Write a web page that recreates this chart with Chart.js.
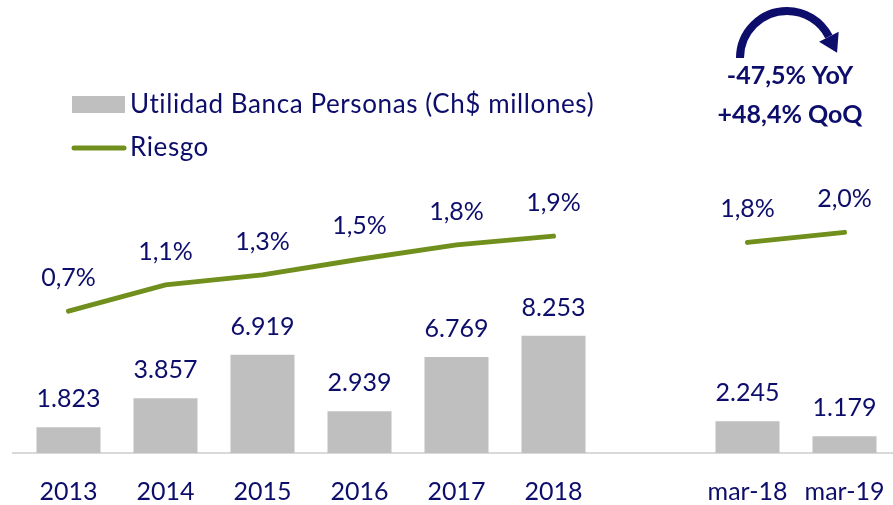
<!DOCTYPE html>
<html>
<head>
<meta charset="utf-8">
<script src="https://cdn.jsdelivr.net/npm/chart.js@4.4.1/dist/chart.umd.min.js"></script>
<style>
  html, body { margin: 0; padding: 0; background: #fff; }
  #wrap { position: relative; width: 893px; height: 505px; }
</style>
</head>
<body>
<div id="wrap"><canvas id="chart"></canvas></div>
<script>
// Utilidad Banca Personas + Riesgo
const categories = ["2013", "2014", "2015", "2016", "2017", "2018", "", "mar-18", "mar-19"];
const utilidad = [1823, 3857, 6919, 2939, 6769, 8253, null, 2245, 1179]; // Ch$ millones
const riesgo = [0.7, 1.12, 1.28, 1.53, 1.76, 1.9, null, 1.8, 1.96]; // %
const legendLabels = ["Utilidad Banca Personas (Ch$ millones)", "Riesgo"];
const noteLines = ["-47,5% YoY", "+48,4% QoQ"];

const navy = "#0d0d6b";
const barColor = "#bfbfbf";
const lineColor = "#718f1d";
const fontFamily = "Lato, 'Liberation Sans', sans-serif";

const fmtMiles = (v) => v.toLocaleString("de-DE");
const fmtPct = (v) => v.toFixed(1).replace(".", ",") + "%";

// baseline that runs a bit left of the plot, like the original
const baselinePlugin = {
  id: "baseline",
  beforeDatasetsDraw(chart) {
    const ctx = chart.ctx;
    const y = chart.scales.x.top;
    ctx.save();
    ctx.strokeStyle = "#d9d9d9";
    ctx.lineWidth = 2;
    ctx.beginPath();
    ctx.moveTo(12, y);
    ctx.lineTo(chart.chartArea.right, y);
    ctx.stroke();
    ctx.restore();
  },
};

// data labels, legend and arrow note
const extrasPlugin = {
  id: "extras",
  afterDatasetsDraw(chart) {
    const ctx = chart.ctx;
    ctx.save();
    ctx.fillStyle = navy;
    ctx.textAlign = "center";
    ctx.textBaseline = "middle";
    ctx.font = "25px " + fontFamily;

    chart.getDatasetMeta(0).data.forEach((bar, i) => {
      if (utilidad[i] == null) return;
      ctx.fillText(fmtMiles(utilidad[i]), bar.x, bar.y - 28);
    });
    chart.getDatasetMeta(1).data.forEach((pt, i) => {
      if (riesgo[i] == null) return;
      ctx.fillText(fmtPct(riesgo[i]), pt.x, pt.y - 33);
    });

    // legend
    ctx.textAlign = "left";
    ctx.fillStyle = barColor;
    ctx.fillRect(72, 96, 53, 17);
    ctx.strokeStyle = lineColor;
    ctx.lineWidth = 5;
    ctx.lineCap = "round";
    ctx.beginPath();
    ctx.moveTo(74, 148);
    ctx.lineTo(124, 148);
    ctx.stroke();
    ctx.fillStyle = navy;
    ctx.font = "26px " + fontFamily;
    ctx.letterSpacing = "0.6px";
    ctx.fillText(legendLabels[0], 130, 105);
    ctx.fillText(legendLabels[1], 130, 148);
    ctx.letterSpacing = "0px";

    // curved arrow
    ctx.strokeStyle = navy;
    ctx.fillStyle = navy;
    ctx.lineWidth = 8;
    ctx.lineCap = "butt";
    const cx = 787, cy = 58, r = 47, a1 = 1.85 * Math.PI;
    ctx.beginPath();
    ctx.arc(cx, cy, r, Math.PI, a1);
    ctx.stroke();
    const ex = cx + r * Math.cos(a1), ey = cy + r * Math.sin(a1);
    const tx = -Math.sin(a1), ty = Math.cos(a1);
    ctx.beginPath();
    ctx.moveTo(ex + 18 * tx, ey + 18 * ty);
    ctx.lineTo(ex - 11 * ty, ey + 11 * tx);
    ctx.lineTo(ex + 11 * ty, ey - 11 * tx);
    ctx.closePath();
    ctx.fill();

    ctx.textAlign = "center";
    ctx.font = "bold 25px " + fontFamily;
    ctx.fillText(noteLines[0], 790, 76);
    ctx.fillText(noteLines[1], 790, 115);
    ctx.restore();
  },
};

new Chart(document.getElementById("chart"), {
  data: {
    labels: categories,
    datasets: [
      {
        type: "bar",
        label: legendLabels[0],
        data: utilidad,
        yAxisID: "yVal",
        backgroundColor: barColor,
        barPercentage: 0.66,
        categoryPercentage: 1,
        order: 1,
      },
      {
        type: "line",
        label: legendLabels[1],
        data: riesgo,
        yAxisID: "yPct",
        borderColor: lineColor,
        borderWidth: 5,
        borderCapStyle: "round",
        pointRadius: 0,
        spanGaps: false,
        tension: 0,
        order: 0,
      },
    ],
  },
  options: {
    responsive: true,
    maintainAspectRatio: false,
    animation: false,
    layout: { padding: { left: 20, right: 0, top: 13, bottom: 1 } },
    plugins: { legend: { display: false }, tooltip: { enabled: false } },
    scales: {
      x: {
        offset: true,
        // transparent tick marks keep the labels low without squeezing the plot
        grid: { display: true, drawOnChartArea: false, drawTicks: true, tickLength: 26, color: "rgba(0,0,0,0)" },
        border: { display: false },
        ticks: {
          color: navy,
          font: { family: fontFamily, size: 25, lineHeight: 1 },
          padding: 0,
          maxRotation: 0,
          autoSkip: false,
        },
      },
      yVal: { display: false, min: 0, max: 31000 },
      yPct: { display: false, min: -1.57, max: 5.47 },
    },
  },
  plugins: [baselinePlugin, extrasPlugin],
});
</script>
</body>
</html>
